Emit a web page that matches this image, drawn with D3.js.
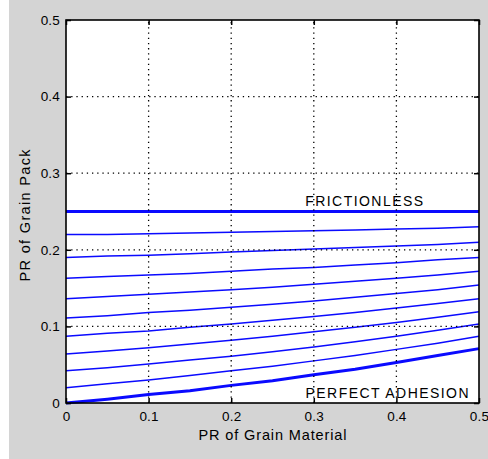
<!DOCTYPE html>
<html>
<head>
<meta charset="utf-8">
<script src="https://cdn.jsdelivr.net/npm/d3@7"></script>
<style>
  html, body { margin: 0; padding: 0; background: #ffffff; }
  svg { display: block; }
  text { font-family: "Liberation Sans", Arial, sans-serif; fill: #000; }
</style>
</head>
<body>
<svg id="chart" width="488" height="459"></svg>
<script>
// Poisson's ratio of the grain material (x) and of the grain pack (y)
const grainPR = [0, 0.05, 0.1, 0.15, 0.2, 0.25, 0.3, 0.35, 0.4, 0.45, 0.5];

// Pack Poisson's ratio, from frictionless contacts down to perfect adhesion
const frictionless    = [0.250, 0.250, 0.250, 0.250, 0.250, 0.250, 0.250, 0.250, 0.250, 0.250, 0.250];
const stick10         = [0.220, 0.220, 0.221, 0.222, 0.223, 0.224, 0.225, 0.226, 0.227, 0.228, 0.230];
const stick20         = [0.190, 0.192, 0.193, 0.195, 0.197, 0.199, 0.201, 0.203, 0.205, 0.207, 0.210];
const stick30         = [0.163, 0.165, 0.167, 0.169, 0.172, 0.175, 0.177, 0.180, 0.183, 0.187, 0.190];
const stick40         = [0.136, 0.139, 0.142, 0.145, 0.148, 0.151, 0.155, 0.159, 0.163, 0.167, 0.172];
const stick50         = [0.111, 0.114, 0.118, 0.121, 0.125, 0.129, 0.133, 0.138, 0.143, 0.148, 0.154];
const stick60         = [0.087, 0.091, 0.094, 0.099, 0.103, 0.108, 0.113, 0.118, 0.124, 0.130, 0.136];
const stick70         = [0.064, 0.068, 0.072, 0.077, 0.082, 0.087, 0.093, 0.099, 0.105, 0.112, 0.119];
const stick80         = [0.042, 0.046, 0.051, 0.056, 0.061, 0.067, 0.073, 0.080, 0.087, 0.095, 0.103];
const stick90         = [0.020, 0.025, 0.030, 0.036, 0.042, 0.048, 0.055, 0.062, 0.070, 0.078, 0.087];
const perfectAdhesion = [0.000, 0.005, 0.011, 0.016, 0.023, 0.029, 0.037, 0.044, 0.053, 0.062, 0.071];

const tickValues = [0, 0.1, 0.2, 0.3, 0.4, 0.5];
const tickLabels = ["0", "0.1", "0.2", "0.3", "0.4", "0.5"];

const xTitle = "PR of Grain Material";
const yTitle = "PR of Grain Pack";
const topNote = "FRICTIONLESS";
const bottomNote = "PERFECT ADHESION";

const thinCurves = [stick10, stick20, stick30, stick40, stick50, stick60, stick70, stick80, stick90];
const thickCurves = [frictionless, perfectAdhesion];

const svg = d3.select("#chart");
const W = 488, H = 459;
const plot = { left: 66, right: 479, top: 20, bottom: 403 };

// figure background
svg.append("rect").attr("x", 9).attr("y", 0).attr("width", W - 9).attr("height", H)
  .attr("fill", "#d4d4d4");

const x = d3.scaleLinear().domain([0, 0.5]).range([plot.left, plot.right]);
const y = d3.scaleLinear().domain([0, 0.5]).range([plot.bottom, plot.top]);

// axes background
svg.append("rect")
  .attr("x", plot.left).attr("y", plot.top)
  .attr("width", plot.right - plot.left).attr("height", plot.bottom - plot.top)
  .attr("fill", "#ffffff");

const line = d3.line()
  .x((d, i) => x(grainPR[i]))
  .y(d => y(d));

const curves = svg.append("g").attr("fill", "none").attr("stroke", "#0a0aff");
curves.selectAll("path.thin").data(thinCurves).join("path")
  .attr("class", "thin")
  .attr("stroke-width", 1.5)
  .attr("d", line);
curves.selectAll("path.thick").data(thickCurves).join("path")
  .attr("class", "thick")
  .attr("stroke-width", 3)
  .attr("d", line);

// dotted grid
const inner = tickValues.slice(1, -1);
const grid = svg.append("g")
  .attr("stroke", "#000").attr("stroke-width", 1.3)
  .attr("stroke-dasharray", "1.3,3.9");
grid.selectAll("line.v").data(inner).join("line").attr("class", "v")
  .attr("x1", d => x(d)).attr("x2", d => x(d))
  .attr("y1", plot.bottom).attr("y2", plot.top);
grid.selectAll("line.h").data(inner).join("line").attr("class", "h")
  .attr("y1", d => y(d)).attr("y2", d => y(d))
  .attr("x1", plot.left).attr("x2", plot.right);

// axes with inward ticks on all four sides
const tickFmt = (d, i) => tickLabels[i];
const bottomAxis = d3.axisBottom(x).tickValues(tickValues).tickFormat(tickFmt)
  .tickSizeInner(-5).tickSizeOuter(0).tickPadding(8);
const leftAxis = d3.axisLeft(y).tickValues(tickValues).tickFormat(tickFmt)
  .tickSizeInner(-5).tickSizeOuter(0).tickPadding(6);
const topAxis = d3.axisTop(x).tickValues(tickValues).tickFormat("")
  .tickSizeInner(-5).tickSizeOuter(0);
const rightAxis = d3.axisRight(y).tickValues(tickValues).tickFormat("")
  .tickSizeInner(-5).tickSizeOuter(0);

function styleAxis(g) {
  g.select(".domain").remove();
  g.selectAll(".tick line").attr("stroke", "#000").attr("stroke-width", 1.5);
  g.selectAll(".tick text")
    .attr("fill", "#000")
    .style("font-size", "13.5px")
    .style("letter-spacing", "0.2px")
    .attr("font-family", null);
}

svg.append("g").attr("transform", `translate(0,${plot.bottom})`).call(bottomAxis).call(styleAxis);
svg.append("g").attr("transform", `translate(${plot.left},0)`).call(leftAxis).call(styleAxis);
svg.append("g").attr("transform", `translate(0,${plot.top})`).call(topAxis).call(styleAxis);
svg.append("g").attr("transform", `translate(${plot.right},0)`).call(rightAxis).call(styleAxis);

// axes box
svg.append("rect")
  .attr("x", plot.left).attr("y", plot.top)
  .attr("width", plot.right - plot.left).attr("height", plot.bottom - plot.top)
  .attr("fill", "none").attr("stroke", "#000").attr("stroke-width", 1.6);

// axis titles
svg.append("text")
  .attr("x", (plot.left + plot.right) / 2).attr("y", 440)
  .attr("text-anchor", "middle")
  .attr("textLength", 148).attr("lengthAdjust", "spacing")
  .style("font-size", "14.5px")
  .text(xTitle);

svg.append("text")
  .attr("transform", `translate(30,${(plot.top + plot.bottom) / 2 + 4}) rotate(-90)`)
  .attr("text-anchor", "middle")
  .attr("textLength", 132).attr("lengthAdjust", "spacing")
  .style("font-size", "14.5px")
  .text(yTitle);

// curve annotations
svg.append("text")
  .attr("x", x(0.2895)).attr("y", y(0.25) - 5.5)
  .attr("textLength", 118).attr("lengthAdjust", "spacing")
  .style("font-size", "14px")
  .text(topNote);

svg.append("text")
  .attr("x", x(0.29)).attr("y", plot.bottom - 5)
  .attr("textLength", 163).attr("lengthAdjust", "spacing")
  .style("font-size", "14px")
  .text(bottomNote);
</script>
</body>
</html>
